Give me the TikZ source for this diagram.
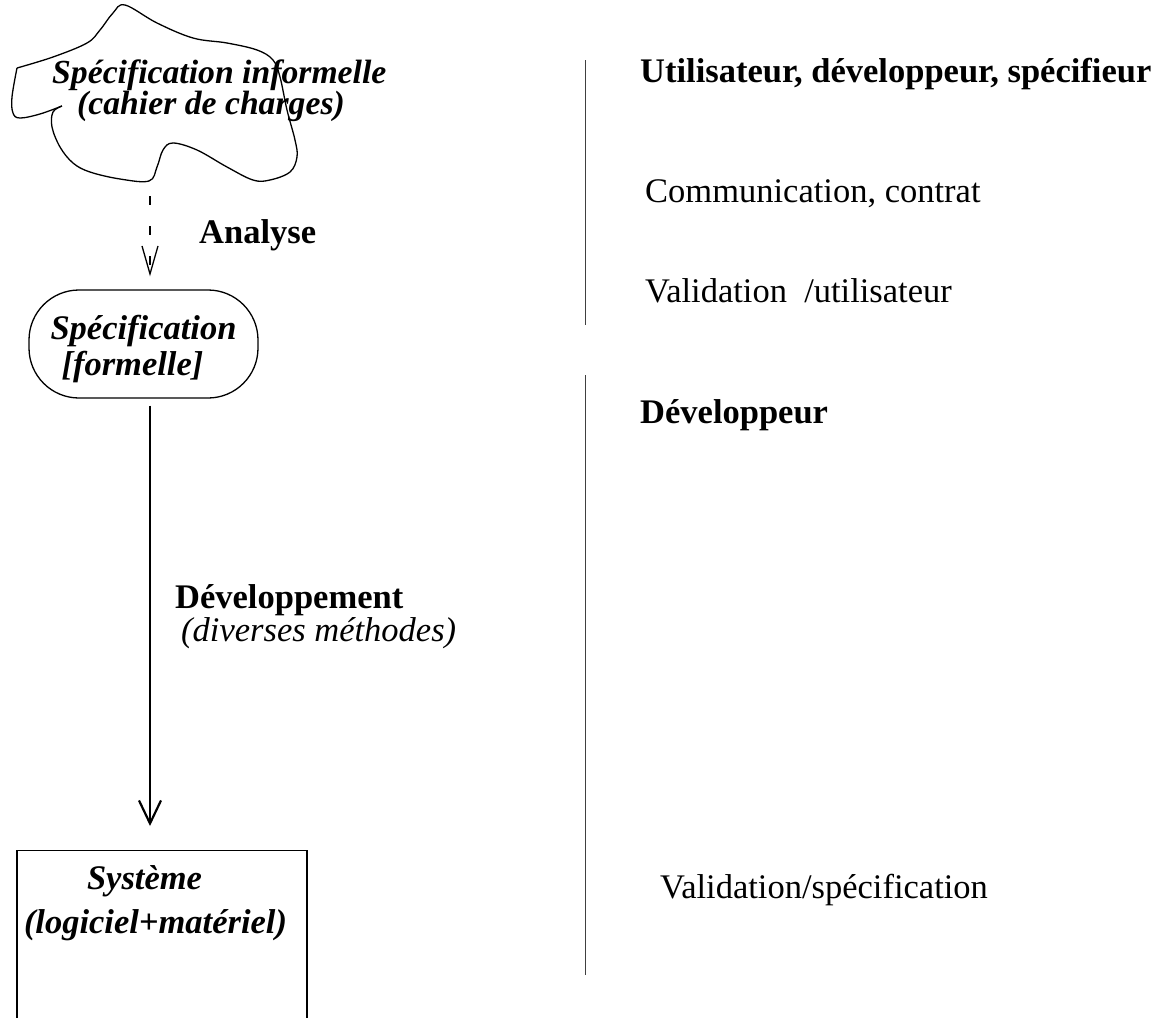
\documentclass[tikz,border=0pt]{standalone}
\usepackage{fontspec}
\setmainfont{Liberation Serif}
\usetikzlibrary{arrows.meta}
\tikzset{
  bigfont/.style={font=\fontsize{34.5}{40}\selectfont},
  bfbig/.style={font=\fontsize{34.5}{40}\selectfont\bfseries},
  itbig/.style={font=\fontsize{34.5}{40}\selectfont\itshape},
  cloudline/.style={line width=1.3pt, line join=round},
  cloudtext/.style={font=\fontsize{33.7}{27.5}\selectfont\bfseries\itshape, align=left,
    inner sep=0pt, anchor=north west},
  specbox/.style={draw, line width=1.3pt, rounded corners=50pt, minimum width=229pt,
    minimum height=108pt, inner sep=0pt, align=left, text height=71pt,
    font=\fontsize{34.5}{36}\selectfont\bfseries\itshape},
  sysbox/.style={draw, line width=1.3pt, minimum width=290pt, anchor=north, align=left,
    inner xsep=0pt, inner ysep=15pt, text depth=110pt,
    font=\fontsize{34.5}{44}\selectfont\bfseries\itshape},
  dasharrow/.style={line width=1.3pt, dash pattern=on 9pt off 21pt,
    -{Straight Barb[length=28pt,width=16pt]}},
  devarrow/.style={line width=2.2pt, -{Straight Barb[length=23pt,width=22pt]}},
  sepline/.style={line width=1pt, black!75},
  lbl/.style={anchor=base west, inner sep=0pt},
}
\begin{document}
\begin{tikzpicture}[x=1pt,y=-1pt]
\useasboundingbox (0,0) rectangle (1160,1018);

% cloud outline
\draw[cloudline] plot[smooth, tension=0.6] coordinates {
  (62,106) (53,112) (52,127) (60,147) (73,163) (90,172) (120,179) (149,181)
  (157,167) (163,150) (173,143) (197,150) (227,167) (253,180) (270,180)
  (290,172) (297,157) (295,140) (287,110) (280,77) (273,60) (257,50)
  (227,43) (193,38) (157,23) (125,5) (113,13) (100,30) (87,43) (53,57) (17,68)};
\draw[cloudline] plot[smooth, tension=0.6] coordinates {
  (17,68) (12,97) (13,113) (20,118) (40,114) (62,106)};

% nodes
\node[cloudtext] (cloud) at (52,59.5) {Spécification informelle\\\hspace*{25pt}(cahier de charges)};
\node[specbox] (spec) at (143.5,344) {Spécification\\\hspace*{11pt}{[}formelle{]}};
\node[sysbox] (sys) at (162,850) {\hspace*{63pt}Système\\(logiciel+matériel)\hspace*{13pt}};

\coordinate (cloudbot) at (150,196);

% connectors
\draw[dasharrow, shorten >=13pt] (cloudbot) -- (cloudbot |- spec.north);
\draw[devarrow, shorten <=7pt, shorten >=24pt] (spec.south -| cloudbot) -- (sys.north -| cloudbot);

% labels
\node[lbl, bfbig] (analyse) at (199,243) {Analyse};
\node[lbl, bfbig] (devlbl) at (175,608) {Développement};
\node[lbl, itbig] (devsub) at (181,641) {(diverses méthodes)};

% separators
\coordinate (s1a) at (585,60);
\coordinate (s1b) at (585,325);
\coordinate (s2a) at (585,375);
\coordinate (s2b) at (585,975);
\draw[sepline] (s1a) -- (s1b);
\draw[sepline] (s2a) -- (s2b);

% right column
\node[lbl, bfbig] (roles) at (640,82) {Utilisateur, développeur, spécifieur};
\node[lbl, bigfont] (comm) at (645,202) {Communication, contrat};
\node[lbl, bigfont] (valu) at (645,302) {Validation\ \ /utilisateur};
\node[lbl, bfbig] (devr) at (640,423) {Développeur};
\node[lbl, bigfont] (vals) at (660,898) {Validation/spécification};
\end{tikzpicture}
\end{document}
